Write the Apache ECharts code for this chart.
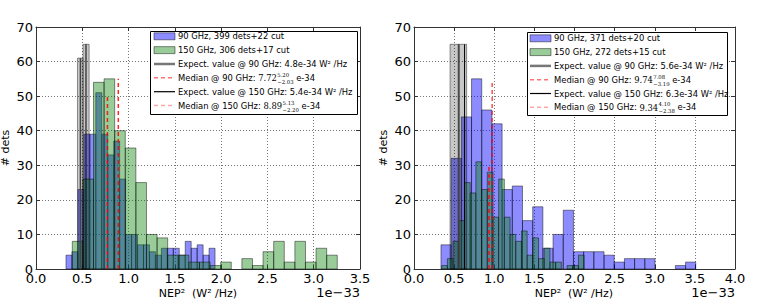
<!DOCTYPE html>
<html><head><meta charset="utf-8">
<script src="https://cdn.jsdelivr.net/npm/echarts@6.0.0/dist/echarts.min.js"></script>
<style>html,body{margin:0;padding:0;background:#fff;}#chart{width:773px;height:306px;}</style>
</head><body><div id="chart"></div>
<script>
// ================= DATA =================
// tick labels
const xTicksLeft  = [0.0, 0.5, 1.0, 1.5, 2.0, 2.5, 3.0, 3.5];
const xTicksRight = [0.0, 0.5, 1.0, 1.5, 2.0, 2.5, 3.0, 3.5, 4.0];
const yTicks = [0, 10, 20, 30, 40, 50, 60, 70];
const xAxisName = 'NEP²  (W² /Hz)';
const xOffsetText = '1e\u221233';
const yAxisName = '# dets';

// left panel histograms (NEP^2 in units of 1e-33)
const L90_binStart = 0.324, L90_binWidth = 0.0644;
const L90_counts  = [4,5,23,39,39,51,39,33,37,26,10,10,7,7,5,4,6,6,6,4,8,6,7,4,6];
const L150_binStart = 0.392, L150_binWidth = 0.1145;
const L150_counts = [8,26,54,55,40,35,25,10,9,4,4,2,2,1,2,0,3,1,5,8,2,8,2,6,4];
// right panel histograms
const R90_binStart = 0.336, R90_binWidth = 0.127;
const R90_counts  = [7,32,44,55,46,42,23,24,14,18,6,10,17,5,5,5,4,2,3,3,3,0,0,1,2];
const R150_binStart = 0.345, R150_binWidth = 0.071;
const R150_counts = [1,3,8,14,25,22,31,23,28,15,26,15,10,8,11,4,9,3,6,2,2,0,1,1,4];

// expectation-value boxes [x0, x1, height] and lines [x, height]
const L_expectBoxes = [[0.448, 0.508, 61], [0.508, 0.574, 65]];
const R_expectBoxes = [[0.449, 0.552, 65], [0.552, 0.656, 65]];
const L_expect90 = [[0.48, 61]], L_expect150 = [[0.54, 65]];
const R_expect90 = [[0.56, 65]], R_expect150 = [[0.63, 65]];
// medians [x, height]
const L_median90 = [[0.772, 50]], L_median150 = [[0.889, 55]];
const R_median90 = [[0.974, 54]], R_median150 = [[0.934, 30]];

// legend texts
const leftLegend = [
  '90 GHz, 399 dets+22 cut',
  '150 GHz, 306 dets+17 cut',
  'Expect. value @ 90 GHz: 4.8e-34 W² /Hz',
  ['Median @ 90 GHz: ', '7.72', '5.20', '\u22122.03', ' e-34'],
  'Expect. value @ 150 GHz: 5.4e-34 W² /Hz',
  ['Median @ 150 GHz: ', '8.89', '5.13', '\u22122.20', ' e-34']
];
const rightLegend = [
  '90 GHz, 371 dets+20 cut',
  '150 GHz, 272 dets+15 cut',
  'Expect. value @ 90 GHz: 5.6e-34 W² /Hz',
  ['Median @ 90 GHz: ', '9.74', '7.08', '\u22123.19', ' e-34'],
  'Expect. value @ 150 GHz: 6.3e-34 W² /Hz',
  ['Median @ 150 GHz: ', '9.34', '4.10', '\u22122.38', ' e-34']
];

// ================= STYLE / BUILD =================
const FONT = 'DejaVu Sans';
const SERIF = 'DejaVu Serif';
const C_BLUE = 'rgba(0,0,255,0.45)';
const C_GREEN = 'rgba(0,128,0,0.40)';
const C_EDGE = 'rgba(0,0,0,0.45)';
const C_GRAY = 'rgba(0,0,0,0.22)';
const AX = '#333';

function histData(start, width, counts) {
  return counts.map((c, i) => [start + i * width, start + (i + 1) * width, c]);
}
function rectSeries(ai, data, fill, stroke, z) {
  return {
    type: 'custom', xAxisIndex: ai, yAxisIndex: ai, z, data, silent: true,
    encode: { x: [0, 1], y: 2 },
    renderItem(params, api) {
      const h = api.value(2);
      if (!h) return null;
      const a = api.coord([api.value(0), 0]);
      const b = api.coord([api.value(1), h]);
      return { type: 'rect', shape: { x: a[0], y: b[1], width: b[0] - a[0], height: a[1] - b[1] },
        style: { fill, stroke, lineWidth: 1 } };
    }
  };
}
function vlineSeries(ai, data, color, width, dash, z) {
  return {
    type: 'custom', xAxisIndex: ai, yAxisIndex: ai, z, data, silent: true,
    encode: { x: 0, y: 1 },
    renderItem(params, api) {
      const a = api.coord([api.value(0), 0]);
      const b = api.coord([api.value(0), api.value(1)]);
      return { type: 'line', shape: { x1: a[0], y1: a[1], x2: b[0], y2: b[1] },
        style: { stroke: color, lineWidth: width, lineDash: dash || null, fill: null } };
    }
  };
}
function xAxes(grid, ticks) {
  const base = {
    gridIndex: grid, type: 'value', min: ticks[0], max: ticks[ticks.length - 1],
    interval: ticks[1] - ticks[0],
    axisLine: { show: true, onZero: false, lineStyle: { color: AX, width: 1 } },
    axisTick: { show: true, inside: true, length: 4, lineStyle: { color: AX } },
  };
  return [
    Object.assign({}, base, {
      position: 'bottom',
      axisLabel: { show: true, color: '#000', fontFamily: FONT, fontSize: 13, margin: 3,
        formatter: v => v.toFixed(1) },
      splitLine: { show: true, lineStyle: { color: '#777', width: 1, type: [1, 2] } }
    }),
    Object.assign({}, base, { position: 'top', axisLabel: { show: false }, splitLine: { show: false } })
  ];
}
function yAxes(grid, ticks) {
  const base = {
    gridIndex: grid, type: 'value', min: ticks[0], max: ticks[ticks.length - 1],
    interval: ticks[1] - ticks[0],
    axisLine: { show: true, onZero: false, lineStyle: { color: AX, width: 1 } },
    axisTick: { show: true, inside: true, length: 4, lineStyle: { color: AX } },
  };
  return [
    Object.assign({}, base, {
      position: 'left',
      name: yAxisName, nameLocation: 'middle', nameGap: 25,
      nameTextStyle: { fontFamily: FONT, fontSize: 11, color: '#000' },
      axisLabel: { show: true, color: '#000', fontFamily: FONT, fontSize: 13, margin: 3 },
      splitLine: { show: true, lineStyle: { color: '#777', width: 1, type: [1, 2] } }
    }),
    Object.assign({}, base, { position: 'right', axisLabel: { show: false }, splitLine: { show: false } })
  ];
}

// text measuring for legend layout
const mctx = document.createElement('canvas').getContext('2d');
function tw(t, font) { mctx.font = font; return mctx.measureText(t).width; }

function txt(x, y, text, font, align) {
  const a = align || 'left';
  return { type: 'text', x, y, z: 101, silent: true,
    style: { text, font, fill: '#000', align: a, verticalAlign: 'middle',
      textAlign: a, textVerticalAlign: 'middle' } };
}

function buildLegend(box, sw0, sw1, textX, rowY0, rowStep, labels, lineStyles) {
  const els = [];
  els.push({ type: 'rect', z: 100, silent: true,
    shape: { x: box[0] + 0.5, y: box[1] + 0.5, width: box[2], height: box[3] },
    style: { fill: '#fff', stroke: '#000', lineWidth: 1 } });
  const F = '8.4px "' + FONT + '"';
  const FM = '8.4px "' + SERIF + '"';
  const FS = '5.3px "' + SERIF + '"';
  labels.forEach((lab, i) => {
    const y = rowY0 + i * rowStep;
    const st = lineStyles[i];
    if (st.patch) {
      els.push({ type: 'rect', z: 101, silent: true,
        shape: { x: sw0, y: y - 3.5, width: sw1 - sw0, height: 7 },
        style: { fill: st.patch, stroke: C_EDGE, lineWidth: 1 } });
    } else {
      els.push({ type: 'line', z: 101, silent: true,
        shape: { x1: sw0, y1: y, x2: sw1, y2: y },
        style: { stroke: st.color, lineWidth: st.width, lineDash: st.dash || null } });
    }
    if (typeof lab === 'string') {
      els.push(txt(textX, y, lab, F));
    } else {
      let x = textX;
      els.push(txt(x, y, lab[0], F)); x += tw(lab[0], F);
      els.push(txt(x, y + 0.5, lab[1], FM)); x += tw(lab[1], FM) + 0.5;
      els.push(txt(x, y - 3, lab[2], FS));
      els.push(txt(x, y + 4, lab[3], FS));
      x += Math.max(tw(lab[2], FS), tw(lab[3], FS));
      els.push(txt(x, y, lab[4], F));
    }
  });
  return els;
}

const legendStyles = [
  { patch: C_BLUE }, { patch: C_GREEN },
  { color: '#777', width: 2.5 },
  { color: 'rgba(255,0,0,0.55)', width: 1.5, dash: [4, 3] },
  { color: '#000', width: 1.2 },
  { color: 'rgba(255,0,0,0.35)', width: 1.5, dash: [4, 3] }
];

const F11 = '11px "' + FONT + '"';
const F13 = '13px "' + FONT + '"';
const graphics = [].concat(
  buildLegend([150, 31, 207, 83], 154, 175, 178, 36.3, 13.85, leftLegend, legendStyles),
  buildLegend([527, 32, 200, 83], 530, 551, 554, 38.3, 13.8, rightLegend, legendStyles),
  [
    txt(198, 293, xAxisName, F11, 'center'),
    txt(574, 293, xAxisName, F11, 'center'),
    txt(360, 292, xOffsetText, F13, 'right'),
    txt(735, 292, xOffsetText, F13, 'right')
  ]
);

const option = {
  animation: false,
  backgroundColor: '#fff',
  textStyle: { fontFamily: FONT },
  grid: [
    { left: 36, right: 413, top: 27, bottom: 37, containLabel: false, outerBoundsMode: 'none', show: false },
    { left: 414, right: 38, top: 27, bottom: 37, containLabel: false, outerBoundsMode: 'none', show: false }
  ],
  xAxis: [].concat(xAxes(0, xTicksLeft), xAxes(1, xTicksRight)),
  yAxis: [].concat(yAxes(0, yTicks), yAxes(1, yTicks)),
  series: [
    rectSeries(0, histData(L90_binStart, L90_binWidth, L90_counts), C_BLUE, C_EDGE, 2),
    rectSeries(0, histData(L150_binStart, L150_binWidth, L150_counts), C_GREEN, C_EDGE, 3),
    rectSeries(0, L_expectBoxes, C_GRAY, 'rgba(0,0,0,0.4)', 4),
    vlineSeries(0, L_expect90, '#444', 1.5, null, 5),
    vlineSeries(0, L_expect150, '#000', 1, null, 5),
    vlineSeries(0, L_median90, 'rgba(255,0,0,0.85)', 1.5, [4, 3], 6),
    vlineSeries(0, L_median150, 'rgba(255,0,0,0.85)', 1.5, [4, 3], 6),

    rectSeries(2, histData(R90_binStart, R90_binWidth, R90_counts), C_BLUE, C_EDGE, 2),
    rectSeries(2, histData(R150_binStart, R150_binWidth, R150_counts), C_GREEN, C_EDGE, 3),
    rectSeries(2, R_expectBoxes, C_GRAY, 'rgba(0,0,0,0.4)', 4),
    vlineSeries(2, R_expect90, '#444', 1.5, null, 5),
    vlineSeries(2, R_expect150, '#000', 1, null, 5),
    vlineSeries(2, R_median90, 'rgba(255,0,0,0.7)', 1.5, [4, 3], 6),
    vlineSeries(2, R_median150, 'rgba(255,0,0,0.85)', 1.5, [4, 3], 6)
  ],
  graphic: { elements: graphics }
};

const chart = echarts.init(document.getElementById('chart'), null, { renderer: 'svg', width: 773, height: 306 });
chart.setOption(option);
</script>
</body></html>
